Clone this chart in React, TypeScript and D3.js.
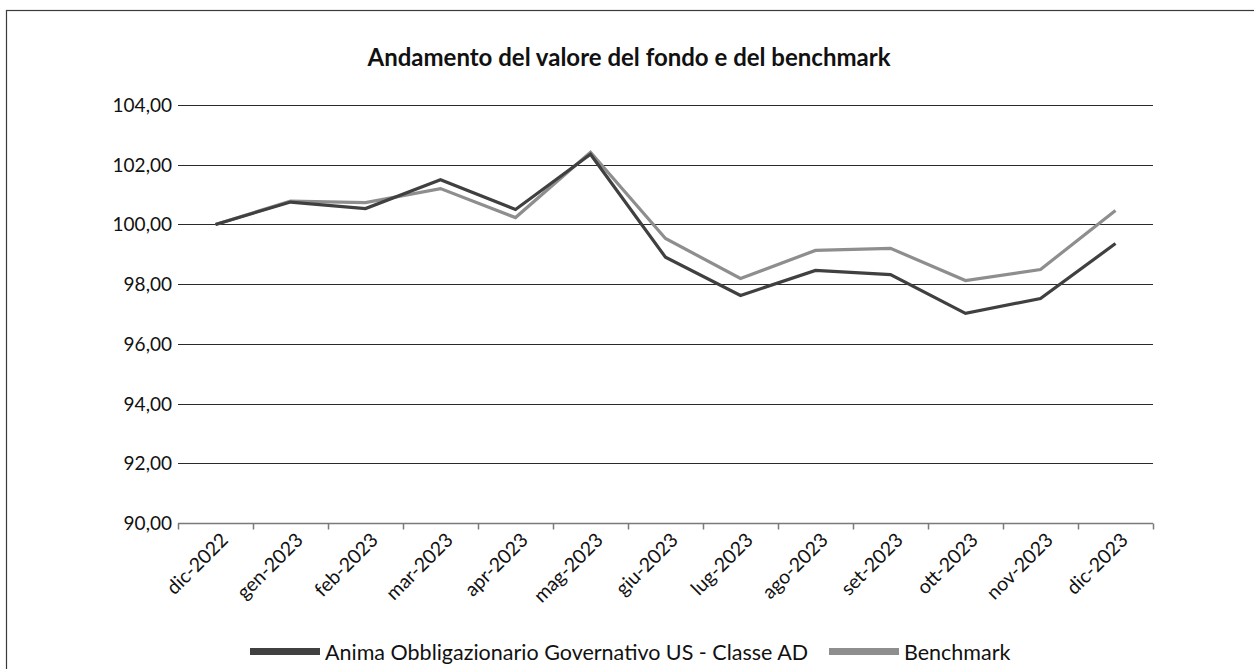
import React, { useEffect, useRef } from "react";
import * as d3 from "d3";

// dati
const mesi = [
  "dic-2022", "gen-2023", "feb-2023", "mar-2023", "apr-2023", "mag-2023", "giu-2023",
  "lug-2023", "ago-2023", "set-2023", "ott-2023", "nov-2023", "dic-2023",
];
const fondo = [100.0, 100.75, 100.53, 101.5, 100.5, 102.35, 98.9, 97.62, 98.46, 98.32, 97.02, 97.52, 99.36];
const benchmark = [100.0, 100.78, 100.73, 101.2, 100.23, 102.42, 99.53, 98.19, 99.13, 99.2, 98.12, 98.49, 100.47];
const yTicks = [90, 92, 94, 96, 98, 100, 102, 104];
const serie = [
  { nome: "Anima Obbligazionario Governativo US - Classe AD", valori: fondo, colore: "#404040" },
  { nome: "Benchmark", valori: benchmark, colore: "#8e8e8e" },
];
const titolo = "Andamento del valore del fondo e del benchmark";

const width = 1254;
const height = 669;
const margin = { top: 105, right: 101, bottom: 146, left: 178 };
const font = "Lato, 'Open Sans', sans-serif";

const itFormat = d3.formatLocale({ decimal: ",", thousands: ".", grouping: [3], currency: ["", "€"] }).format(".2f");

export default function App() {
  const svgRef = useRef<SVGSVGElement>(null);

  useEffect(() => {
    const svg = d3.select(svgRef.current);
    svg.selectAll("*").remove();

    const x = d3.scaleBand().domain(mesi).range([margin.left, width - margin.right]);
    const y = d3.scaleLinear().domain([90, 104]).range([height - margin.bottom, margin.top]);

    // cornice
    svg.append("rect")
      .attr("x", 6.5).attr("y", 10.5)
      .attr("width", width).attr("height", height)
      .attr("fill", "none").attr("stroke", "#3a3a3a").attr("stroke-width", 1.2);

    svg.append("text")
      .attr("x", 629).attr("y", 66)
      .attr("text-anchor", "middle")
      .attr("font-family", font).attr("font-weight", "bold").attr("font-size", 24)
      .attr("fill", "#111")
      .text(titolo);

    // griglia
    const grid = svg.append("g");
    grid.selectAll("line")
      .data(yTicks.filter(d => d !== 90))
      .join("line")
      .attr("x1", margin.left).attr("x2", width - margin.right)
      .attr("y1", d => Math.round(y(d)) + 0.5).attr("y2", d => Math.round(y(d)) + 0.5)
      .attr("stroke", "#2a2a2a").attr("stroke-width", 1);

    grid.selectAll("text")
      .data(yTicks)
      .join("text")
      .attr("x", margin.left - 6)
      .attr("y", d => Math.round(y(d)) + 0.5)
      .attr("dy", "0.35em")
      .attr("text-anchor", "end")
      .attr("font-family", font).attr("font-size", 19).attr("fill", "#111")
      .text(d => itFormat(d));

    // asse x
    const axisY = Math.round(y(90)) + 0.5;
    const ax = svg.append("g");
    ax.append("line")
      .attr("x1", margin.left).attr("x2", width - margin.right)
      .attr("y1", axisY).attr("y2", axisY)
      .attr("stroke", "#7a7a7a").attr("stroke-width", 1.5);
    const bordi = mesi.map(m => x(m)!).concat([width - margin.right]);
    ax.selectAll("line.tick")
      .data(bordi)
      .join("line")
      .attr("class", "tick")
      .attr("x1", d => Math.round(d) + 0.5).attr("x2", d => Math.round(d) + 0.5)
      .attr("y1", axisY).attr("y2", axisY + 6)
      .attr("stroke", "#7a7a7a").attr("stroke-width", 1.5);
    ax.selectAll("text")
      .data(mesi)
      .join("text")
      .attr("transform", d => `translate(${x(d)! + x.bandwidth() / 2 + 4},${axisY + 8}) rotate(-45)`)
      .attr("text-anchor", "end")
      .attr("dy", "0.7em")
      .attr("font-family", font).attr("font-size", 19.5).attr("fill", "#111")
      .text(d => d);

    // linee
    const line = d3.line<number>()
      .x((_, i) => x(mesi[i])! + x.bandwidth() / 2)
      .y(d => y(d));
    svg.append("g")
      .selectAll("path")
      .data(serie.slice().reverse())
      .join("path")
      .attr("d", d => line(d.valori))
      .attr("fill", "none")
      .attr("stroke", d => d.colore)
      .attr("stroke-width", 3.2)
      .attr("stroke-linejoin", "miter");

    // legenda
    const leg = svg.append("g").attr("font-family", font).attr("font-size", 21.5).attr("fill", "#111");
    const posizioni = [250, 829];
    serie.forEach((s, i) => {
      const g = leg.append("g").attr("transform", `translate(${posizioni[i]},652)`);
      g.append("rect").attr("x", 0).attr("y", -4).attr("width", 70).attr("height", 7).attr("fill", s.colore);
      g.append("text").attr("x", 75).attr("y", 0).attr("dy", "0.35em").text(s.nome);
    });
  }, []);

  return (
    <svg
      ref={svgRef}
      width={width}
      height={height}
      style={{ position: "absolute", left: 0, top: 0, background: "#fff" }}
    />
  );
}
